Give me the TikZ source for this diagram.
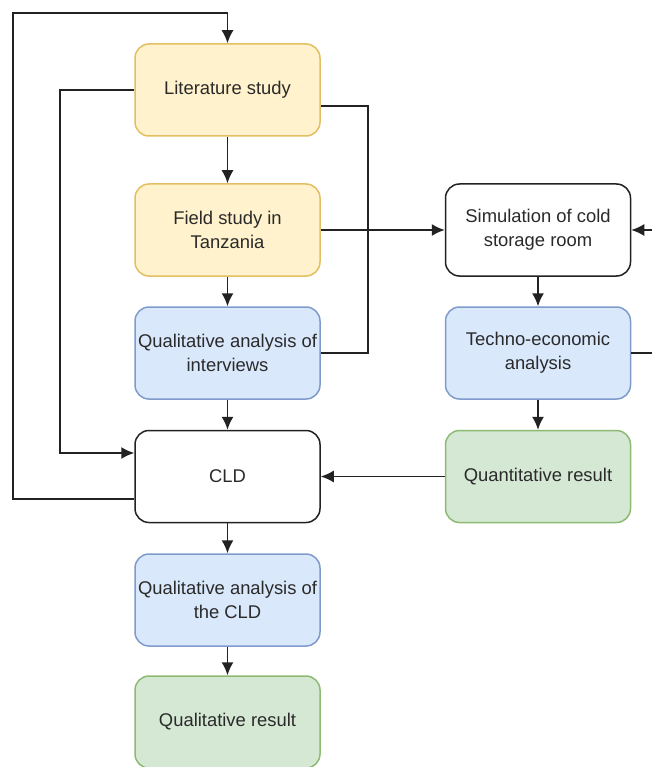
\documentclass[tikz,border=0pt]{standalone}
\usepackage{fontspec}
\setmainfont{Liberation Sans}
\usetikzlibrary{arrows.meta}
\definecolor{ylwfill}{HTML}{FFF2CC}
\definecolor{ylwdraw}{HTML}{E3BE62}
\definecolor{bluefill}{HTML}{DAE8FC}
\definecolor{bluedraw}{HTML}{7E9BCB}
\definecolor{grnfill}{HTML}{D5E8D4}
\definecolor{grndraw}{HTML}{8DBA72}
\definecolor{txt}{HTML}{2A2A2A}
\definecolor{edge}{HTML}{222222}
\tikzset{
  box/.style={draw, rounded corners=14pt, line width=1.5pt, minimum width=185pt, minimum height=92pt,
    align=center, inner sep=2pt, text=txt, font=\fontsize{18.4pt}{24pt}\selectfont},
  ybox/.style={box, fill=ylwfill, draw=ylwdraw},
  bbox/.style={box, fill=bluefill, draw=bluedraw},
  gbox/.style={box, fill=grnfill, draw=grndraw},
  wbox/.style={box, fill=white, draw=edge},
  conn/.style={draw=edge, line width=1.5pt, -{Latex[length=13pt,width=12pt]}},
  plain/.style={draw=edge, line width=1.5pt},
}
\begin{document}
\begin{tikzpicture}[x=1pt,y=-1pt]
\useasboundingbox (0,0) rectangle (652,767);
\clip (0,0) rectangle (652,767);
\node[ybox] (lit) at (227.5,90) {Literature study};
\node[ybox] (field) at (227.5,230) {Field study in\\Tanzania};
\node[bbox] (qint) at (227.5,353) {Qualitative analysis of\\interviews};
\node[wbox] (cld) at (227.5,476.5) {CLD};
\node[bbox] (qcld) at (227.5,600) {Qualitative analysis of\\the CLD};
\node[gbox] (qres) at (227.5,722) {Qualitative result};
\node[wbox] (sim) at (538,230) {Simulation of cold\\storage room};
\node[bbox] (tech) at (538,353) {Techno-economic\\analysis};
\node[gbox] (quant) at (538,476.5) {Quantitative result};
\coordinate (loopA) at (13,499);
\coordinate (loopB) at (13,13);
\coordinate (loopC) at (227.5,13);
\coordinate (litL) at (60,90);
\coordinate (litLd) at (60,453);
\coordinate (litR) at (368,106);
\coordinate (mid) at (368,230);
\coordinate (qintR) at (368,353);
\coordinate (farA) at (680,353);
\coordinate (farB) at (680,230);
\draw[conn] (lit) -- (field);
\draw[conn] (field) -- (qint);
\draw[conn] (qint) -- (cld);
\draw[conn] (cld) -- (qcld);
\draw[conn] (qcld) -- (qres);
\draw[conn] (sim) -- (tech);
\draw[conn] (tech) -- (quant);
\draw[conn] (quant) -- (cld);
\draw[conn] (field.east) -- (sim.west);
\draw[plain] (lit.east |- litR) -- (litR) -- (mid);
\draw[plain] (qint.east) -- (qintR) -- (mid);
\draw[conn] (cld.west |- loopA) -- (loopA) -- (loopB) -- (loopC) -- (lit.north);
\draw[conn] (lit.west) -- (litL) -- (litLd) -- (cld.west |- litLd);
\draw[conn] (tech.east) -- (farA) -- (farB) -- (sim.east);
\end{tikzpicture}
\end{document}
